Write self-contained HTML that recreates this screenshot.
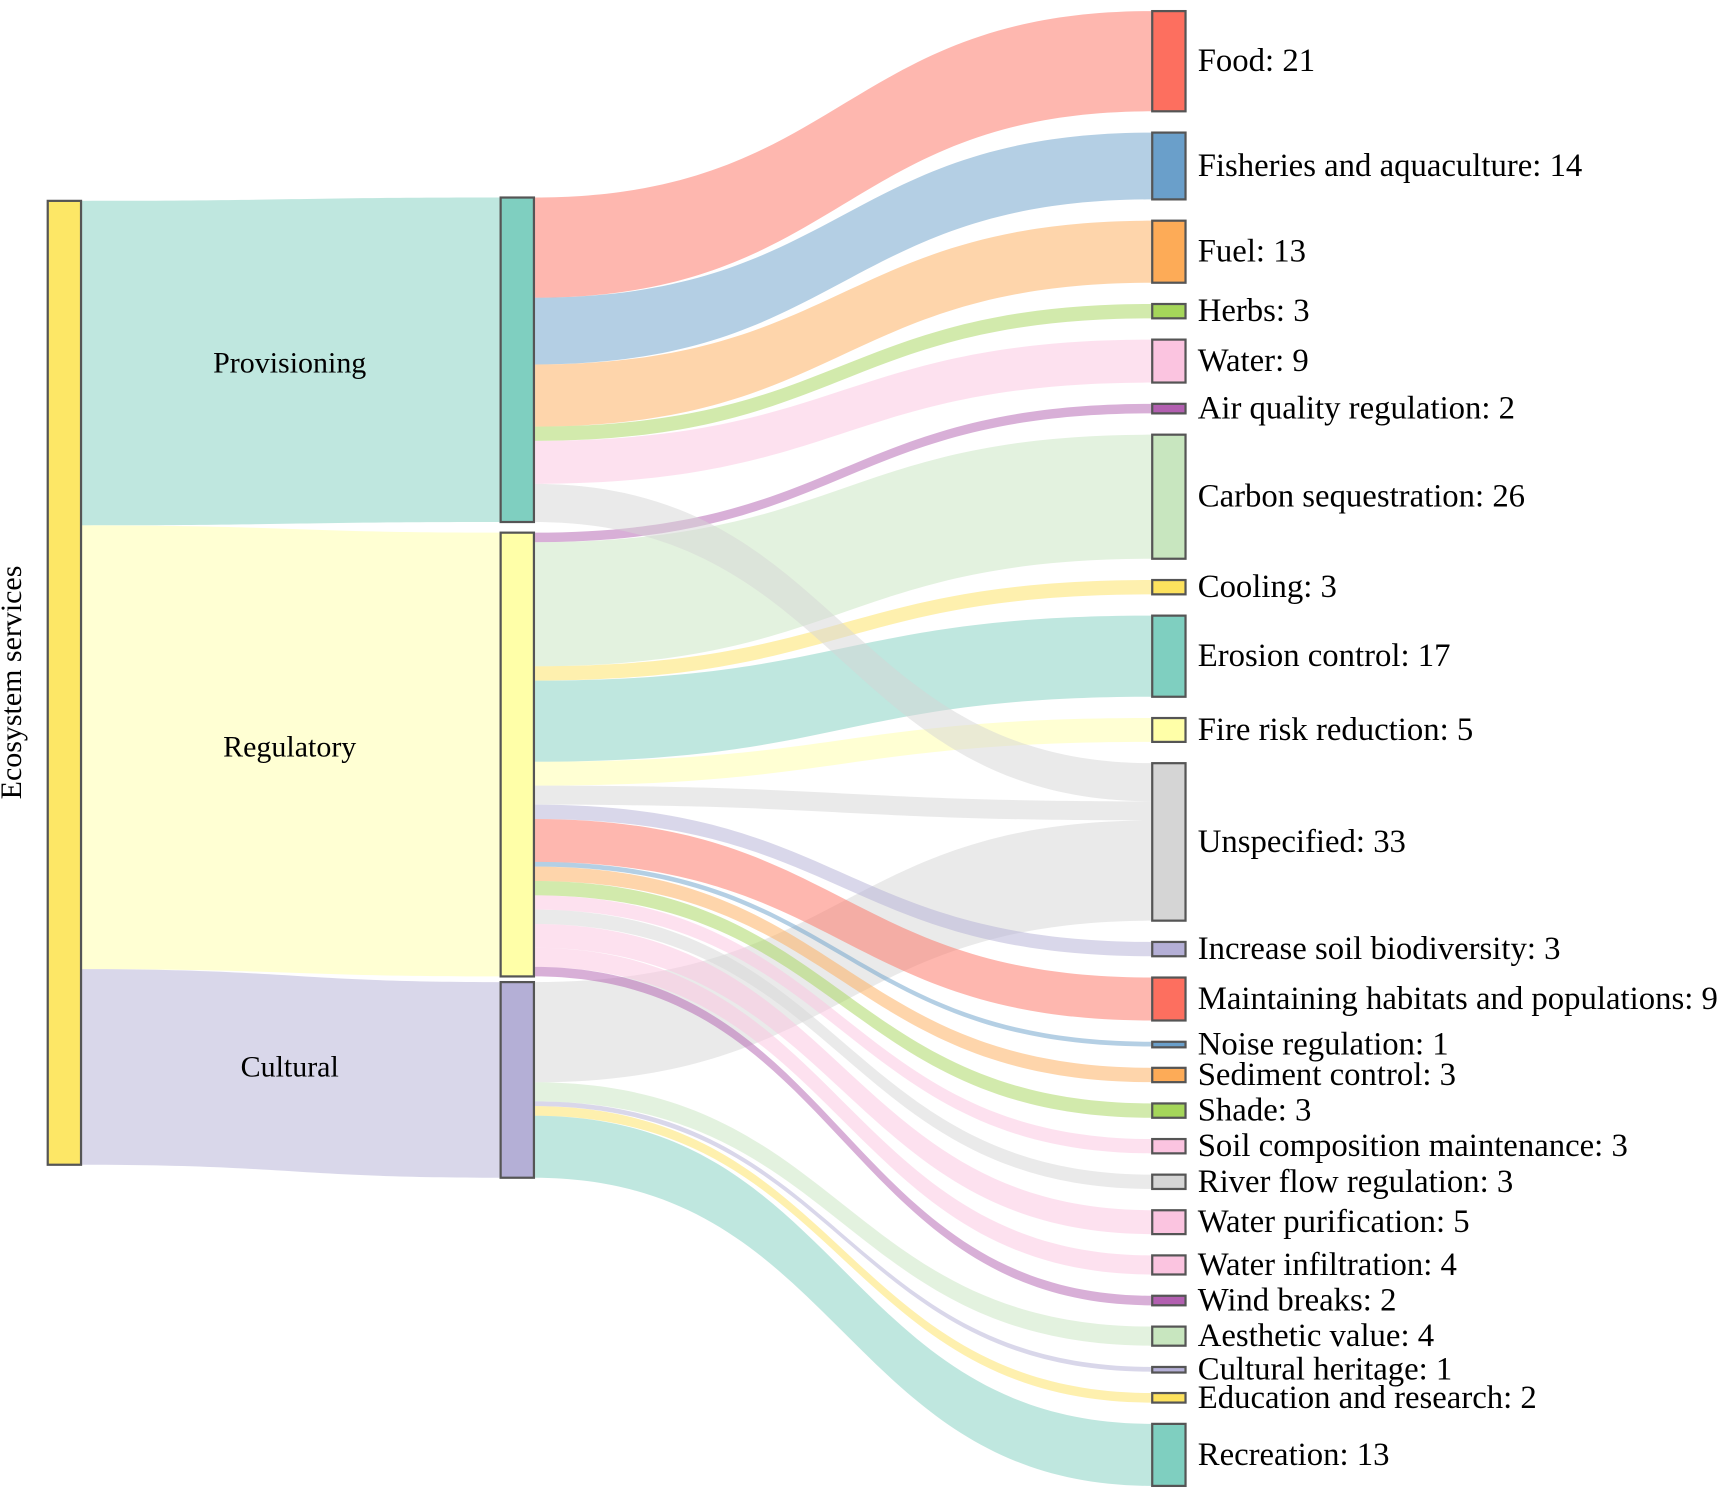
<!DOCTYPE html>
<html><head><meta charset="utf-8"><style>
html,body{margin:0;padding:0;background:#fff;}
svg{display:block;}
text{font-family:"Liberation Serif",serif;fill:#000;}
</style></head><body>
<svg id="chart" width="1735" height="1497" viewBox="0 0 1563 1349" preserveAspectRatio="none" xmlns="http://www.w3.org/2000/svg">
<g id="links"></g>
<g id="nodes"></g>
<text transform="translate(19,615) rotate(-90)" text-anchor="middle" font-size="27">Ecosystem services</text>
</svg>
<script>
const categories = ["Provisioning","Regulatory","Cultural"];
const categoryColors = ["#7fcfc0","#ffffa8","#b4afd6"];
const targets = ["Food","Fisheries and aquaculture","Fuel","Herbs","Water","Air quality regulation","Carbon sequestration","Cooling","Erosion control","Fire risk reduction","Unspecified","Increase soil biodiversity","Maintaining habitats and populations","Noise regulation","Sediment control","Shade","Soil composition maintenance","River flow regulation","Water purification","Water infiltration","Wind breaks","Aesthetic value","Cultural heritage","Education and research","Recreation"];
const targetValues = [21,14,13,3,9,2,26,3,17,5,33,3,9,1,3,3,3,3,5,4,2,4,1,2,13];
const targetColors = ["#fd6f5f","#6a9fca","#fdab57","#a5d65a","#fbc4e0","#b25fb0","#c8e6bf","#fde25e","#7fcfc0","#ffffa8","#d5d5d5","#b4afd6","#fd6f5f","#6a9fca","#fdab57","#a5d65a","#fbc4e0","#d5d5d5","#fbc4e0","#fbc4e0","#b25fb0","#c8e6bf","#b4afd6","#fde25e","#7fcfc0"];
const targetSource = [0,0,0,0,0,1,1,1,1,1,-1,1,1,1,1,1,1,1,1,1,1,2,2,2,2];
const unspecifiedSplit = [8,4,21];

const NS="http://www.w3.org/2000/svg";
const K=4.3;
const xRoot=43,xMid=451,xRight=1038,nodeW=30;
const rightTop=10,rightBottom=1339;
const totalV=targetValues.reduce((a,b)=>a+b,0);
const gapR=(rightBottom-rightTop-totalV*K)/(targets.length-1);
const midTops=[178,480,885];
const rootTop=181;
const linksG=document.getElementById('links'),nodesG=document.getElementById('nodes');

const catValues=[0,0,0];
targets.forEach((t,i)=>{ if(targetSource[i]>=0) catValues[targetSource[i]]+=targetValues[i]; });
unspecifiedSplit.forEach((v,i)=>catValues[i]+=v);

function link(x0,y0a,y0b,x1,y1a,y1b,color,name){
  const xm=(x0+x1)/2;
  const p=document.createElementNS(NS,'path');
  p.setAttribute('d',`M${x0},${y0a} C${xm},${y0a} ${xm},${y1a} ${x1},${y1a} L${x1},${y1b} C${xm},${y1b} ${xm},${y0b} ${x0},${y0b} Z`);
  p.setAttribute('fill',color);p.setAttribute('fill-opacity','0.5');
  
  
  linksG.appendChild(p);
}
function rect(x,y,h,color,name){
  const r=document.createElementNS(NS,'rect');
  r.setAttribute('x',x);r.setAttribute('y',y);r.setAttribute('width',nodeW);r.setAttribute('height',Math.max(h,5));
  r.setAttribute('fill',color);r.setAttribute('stroke','#555');r.setAttribute('stroke-width','2');
  
  
  nodesG.appendChild(r);
}
function label(x,y,s,anchor,name,size){
  const t=document.createElementNS(NS,'text');
  t.setAttribute('x',x);t.setAttribute('y',y);t.setAttribute('font-size',size);
  t.setAttribute('text-anchor',anchor);t.setAttribute('dominant-baseline','central');
  t.textContent=s;
  
  
  nodesG.appendChild(t);
}
let ry=rootTop;
const rootH=catValues.reduce((a,b)=>a+b,0)*K;
categories.forEach((c,i)=>{
  const h=catValues[i]*K;
  link(xRoot+nodeW,ry,ry+h,xMid,midTops[i],midTops[i]+h,categoryColors[i],'link-root-'+c.toLowerCase());
  label(261,ry+h/2,c,'middle','label-'+c.toLowerCase(),27);
  ry+=h;
});
const rTops=[];let y=rightTop;
targetValues.forEach(v=>{rTops.push(y);y+=v*K+gapR;});
const midOff=[0,0,0];
let unspIn=0;
targets.forEach((t,i)=>{
  const h=targetValues[i]*K;
  if(targetSource[i]>=0){
    const s=targetSource[i];
    const y0=midTops[s]+midOff[s];
    link(xMid+nodeW,y0,y0+h,xRight,rTops[i],rTops[i]+h,targetColors[i],'link-'+t.toLowerCase().replace(/\s+/g,'-'));
    midOff[s]+=h;
  } else {
    unspecifiedSplit.forEach((v,s)=>{
      const hh=v*K;const y0=midTops[s]+midOff[s];
      link(xMid+nodeW,y0,y0+hh,xRight,rTops[i]+unspIn,rTops[i]+unspIn+hh,targetColors[i],'link-'+categories[s].toLowerCase()+'-unspecified');
      midOff[s]+=hh;unspIn+=hh;
    });
  }
});
rect(xRoot,rootTop,rootH,'#fde766','node-ecosystem-services');
categories.forEach((c,i)=>rect(xMid,midTops[i],catValues[i]*K,categoryColors[i],'node-'+c.toLowerCase()));
targets.forEach((t,i)=>{
  const h=targetValues[i]*K;
  rect(xRight,rTops[i],h,targetColors[i],'node-'+t.toLowerCase().replace(/\s+/g,'-'));
  label(1079,rTops[i]+Math.max(h,5)/2,t+': '+targetValues[i],'start','label-'+t.toLowerCase().replace(/\s+/g,'-'),29.5);
});
</script>
</body></html>
